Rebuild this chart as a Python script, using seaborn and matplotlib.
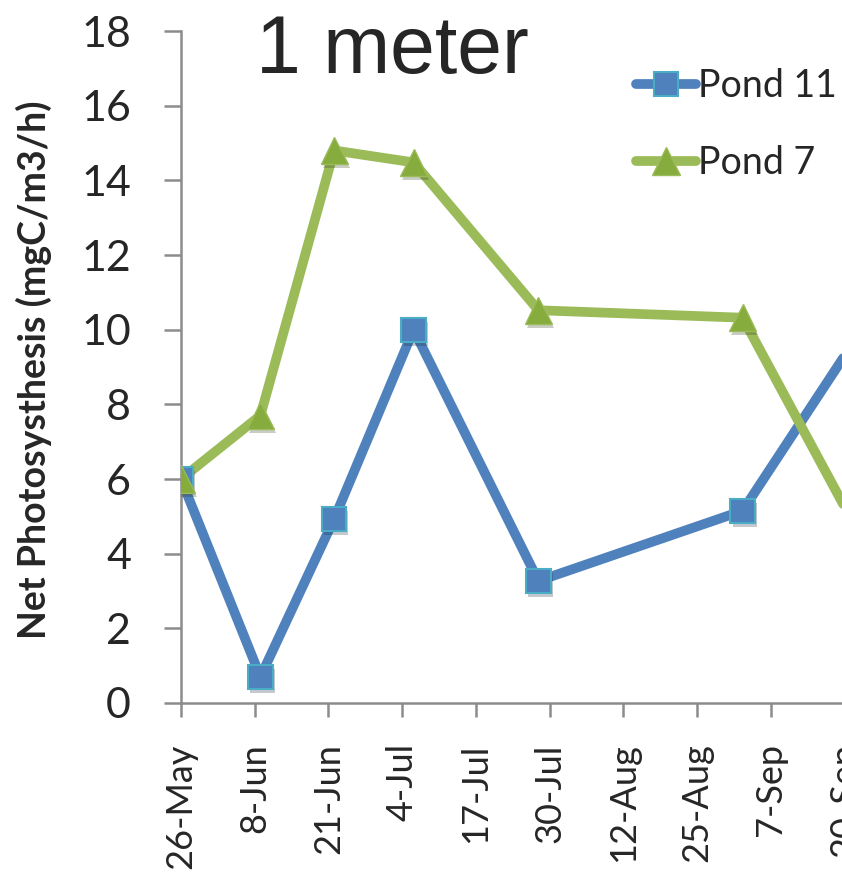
import matplotlib
matplotlib.use("Agg")
import matplotlib.pyplot as plt
import matplotlib.patheffects as pe
from matplotlib.lines import Line2D
import numpy as np
import pandas as pd
import seaborn as sns

# Sampling dates (1 m depth) and net photosynthesis, mgC/m3/h
sample_dates = ["2012-05-26", "2012-06-09", "2012-06-22", "2012-07-06",
                "2012-07-28", "2012-09-02", "2012-09-23"]
pond11 = [6.0, 0.7, 4.93, 10.0, 3.27, 5.15, 10.0]
pond7 = [6.0, 7.7, 14.8, 14.48, 10.52, 10.32, 4.4]

start = pd.Timestamp("2012-05-26")
tick_dates = pd.date_range(start, periods=11, freq="13D")
tick_labels = [f"{d.day}-{d.strftime('%b')}" for d in tick_dates]

days = [(pd.Timestamp(d) - start).days for d in sample_dates]
df = pd.DataFrame({
    "day": days * 2,
    "value": pond11 + pond7,
    "pond": ["Pond 11"] * len(days) + ["Pond 7"] * len(days),
})

sns.set_theme(style="white")
plt.rcParams["font.family"] = ["Lato", "DejaVu Sans"]

W, H = 842, 873
fig = plt.figure(figsize=(W / 100, H / 100), dpi=100)
x0, x1 = 181, 181 + 130 * 5.673
y0, y1 = 703, 31
ax = fig.add_axes([x0 / W, 1 - y0 / H, (x1 - x0) / W, (y0 - y1) / H])

styles = {
    "Pond 11": dict(color="#4F81BD", marker="s", mfc="#4F81BD", mec="#4BACC6",
                    ms=17.5, mew=1.5),
    "Pond 7": dict(color="#9BBB59", marker="^", mfc="#86AC3E", mec="#9BBB59",
                   ms=19.5, mew=1.0),
}
LW = 7
shadow = [pe.SimplePatchShadow(offset=(1.5, -3), alpha=0.25), pe.Normal()]

for name in ["Pond 11", "Pond 7"]:
    sub = df[df["pond"] == name]
    st = styles[name]
    sns.lineplot(data=sub, x="day", y="value", ax=ax, color=st["color"],
                 linewidth=LW, solid_capstyle="round", solid_joinstyle="round",
                 legend=False, zorder=2)
for name in ["Pond 11", "Pond 7"]:
    sub = df[df["pond"] == name]
    st = styles[name]
    sns.lineplot(data=sub, x="day", y="value", ax=ax, linestyle="",
                 marker=st["marker"], markersize=st["ms"],
                 markerfacecolor=st["mfc"], markeredgecolor=st["mec"],
                 markeredgewidth=st["mew"], legend=False, zorder=3,
                 path_effects=shadow)

ax.set_xlim(0, 130)
ax.set_ylim(0, 18)
ax.set_yticks(np.arange(0, 19, 2))
ax.set_xticks([(d - start).days for d in tick_dates])
ax.set_xticklabels(tick_labels, rotation=90)
ax.set_xlabel("")
ax.set_ylabel("")

for side in ["top", "right"]:
    ax.spines[side].set_visible(False)
for side in ["left", "bottom"]:
    ax.spines[side].set_color("#8C8C8C")
    ax.spines[side].set_linewidth(1.8)
ax.tick_params(axis="y", direction="out", length=12, width=1.8,
               color="#8C8C8C", labelsize=31, pad=24, left=True)
ax.tick_params(axis="x", direction="out", length=10, width=1.8,
               color="#8C8C8C", labelsize=26, pad=19, bottom=True)

fig.text(392 / W, 1 - 73 / H, "1 meter", ha="center", va="baseline",
         fontsize=58, family=["Liberation Sans", "DejaVu Sans"])
fig.text(34 / W, 1 - 370 / H, "Net Photosysthesis (mgC/m3/h)",
         rotation=90, ha="center", va="center", fontsize=27,
         fontweight="bold")

handles = []
for name in ["Pond 11", "Pond 7"]:
    st = styles[name]
    handles.append(Line2D([], [], color=st["color"], linewidth=LW,
                          solid_capstyle="round", marker=st["marker"],
                          markersize=st["ms"], markerfacecolor=st["mfc"],
                          markeredgecolor=st["mec"], markeredgewidth=st["mew"]))
fig.legend(handles, ["Pond 11", "Pond 7"], loc="upper left",
           bbox_to_anchor=(636 / W, 1 - 68 / H), frameon=False,
           fontsize=27, handlelength=1.6, handletextpad=0.05,
           labelspacing=1.1, borderpad=0, borderaxespad=0)

fig.savefig("out.png", dpi=100)
